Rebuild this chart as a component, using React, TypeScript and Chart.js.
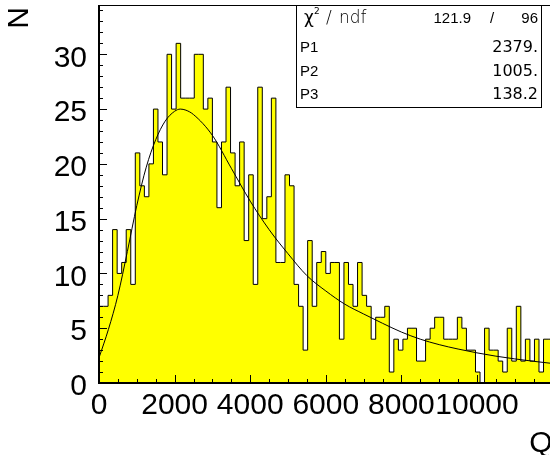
import { useEffect, useRef } from "react";
import { Chart, registerables } from "chart.js";

Chart.register(...registerables);

// ---- data ----
const binWidth = 120;
const xStart = 0;
const binCounts = [
  5, 7, 7, 8, 14, 10, 11, 14, 9, 21,
  18, 17, 20, 25, 22, 19, 30, 25, 31, 26,
  26, 26, 30, 30, 25, 26, 22, 16, 22, 27,
  21, 18, 22, 13, 19, 9, 27, 15, 17, 26,
  11, 11, 19, 18, 9, 7, 3, 13, 7, 11,
  12, 10, 11, 11, 4, 11, 9, 7, 11, 8,
  7, 4, 6, 6, 7, 1, 4, 3, 4, 5,
  5, 2, 2, 4, 5, 6, 6, 4, 4, 4,
  6, 5, 3, 3, 1, 0, 5, 3, 3, 2,
  1, 5, 2, 7, 2, 4, 2, 4, 1, 4,
];
const fitX = [0, 250, 500, 750, 1000, 1250, 1500, 1750, 2000, 2150, 2300, 2500, 3000, 3500, 4000, 4500, 5000, 5500, 6000, 6500, 7000, 7500, 8000, 8500, 9000, 9500, 10000, 10500, 11000, 11500, 12000];
const fitY = [2.3, 4.9, 8.0, 12.0, 16.2, 19.7, 22.2, 23.9, 24.8, 25.0, 24.9, 24.5, 22.6, 19.6, 16.6, 14.0, 11.8, 9.8, 8.4, 7.2, 6.3, 5.45, 4.65, 4.0, 3.5, 3.1, 2.75, 2.45, 2.2, 1.98, 1.78];
const xTickValues = [0, 2000, 4000, 6000, 8000, 10000];
const yTickValues = [0, 5, 10, 15, 20, 25, 30];
const xRange = [0, 12000];
const yRange = [0, 34.5];
const chi2Value = "121.9";
const ndfValue = "96";
const paramNames = ["P1", "P2", "P3"];
const paramValues = ["2379.", "1005.", "138.2"];
const xTitle = "Q";
const yTitle = "N";

const FONT = "'Liberation Sans', Arial, Helvetica, sans-serif";
const DJ = "'DejaVu Sans', sans-serif";

const rootDecor = {
  id: "rootDecor",
  afterDatasetsDraw(chart: any) {
    const { ctx, chartArea: a, scales } = chart;
    const xs = scales.x;
    const ys = scales.y;
    ctx.save();
    ctx.strokeStyle = "#000";
    ctx.fillStyle = "#000";
    // frame top
    ctx.lineWidth = 1;
    ctx.beginPath();
    ctx.moveTo(a.left, Math.round(a.top) + 0.5);
    ctx.lineTo(a.right + 10, Math.round(a.top) + 0.5);
    ctx.stroke();
    // y ticks (inward)
    for (let v = 0; v <= yRange[1]; v += 1) {
      const py = Math.round(ys.getPixelForValue(v)) + 0.5;
      const len = v % 5 === 0 ? 8 : 4;
      ctx.beginPath();
      ctx.moveTo(a.left, py);
      ctx.lineTo(a.left + len, py);
      ctx.stroke();
    }
    // x ticks (inward)
    for (let v = 0; v <= xRange[1]; v += 500) {
      const px = Math.round(xs.getPixelForValue(v)) + 0.5;
      const len = v % 2000 === 0 ? 8 : 4;
      ctx.beginPath();
      ctx.moveTo(px, a.bottom);
      ctx.lineTo(px, a.bottom - len);
      ctx.stroke();
    }
    // axes
    ctx.lineWidth = 2;
    ctx.beginPath();
    ctx.moveTo(a.left, a.top);
    ctx.lineTo(a.left, a.bottom);
    ctx.lineTo(a.right + 10, a.bottom);
    ctx.stroke();

    // stats box
    const bx = 296, by = 5, bw = 245, bh = 102;
    ctx.fillStyle = "#fff";
    ctx.fillRect(bx, by, bw, bh);
    ctx.lineWidth = 1;
    ctx.strokeRect(bx + 0.5, by + 0.5, bw, bh);
    ctx.fillStyle = "#000";
    ctx.textBaseline = "alphabetic";
    // row 1: chi2 / ndf
    const b0 = 23;
    ctx.textAlign = "left";
    ctx.font = `17px ${DJ}`;
    ctx.fillText("\u03C7", 304, b0);
    ctx.font = `9px ${DJ}`;
    ctx.fillText("2", 314, b0 - 9);
    ctx.font = `200 17px ${DJ}`;
    ctx.fillText("/", 326, b0);
    ctx.fillText("ndf", 339, b0);
    ctx.font = `15px ${FONT}`;
    ctx.textAlign = "right";
    ctx.fillText(chi2Value, 471, b0);
    ctx.textAlign = "center";
    ctx.fillText("/", 492, b0);
    ctx.textAlign = "right";
    ctx.fillText(ndfValue, 538, b0);
    // parameter rows
    const baselines = [52, 76, 99];
    paramNames.forEach((n, i) => {
      ctx.textAlign = "left";
      ctx.font = `15px ${FONT}`;
      ctx.fillText(n, 300, baselines[i]);
      ctx.textAlign = "right";
      ctx.font = `16px ${DJ}`;
      ctx.fillText(paramValues[i], 538, baselines[i]);
    });

    // axis titles
    ctx.font = `30px ${FONT}`;
    ctx.textAlign = "right";
    ctx.textBaseline = "alphabetic";
    ctx.fillText(xTitle, a.right, 452);
    ctx.save();
    ctx.translate(28, 7);
    ctx.rotate(-Math.PI / 2);
    ctx.textAlign = "right";
    ctx.fillText(yTitle, 0, 0);
    ctx.restore();
    ctx.restore();
  },
};

export default function App() {
  const ref = useRef<HTMLCanvasElement | null>(null);
  useEffect(() => {
    document.body.style.margin = "0";
    const canvas = ref.current;
    if (!canvas) return;
    const histPoints = binCounts.map((c, i) => ({ x: xStart + i * binWidth, y: c }));
    histPoints.push({ x: xStart + binCounts.length * binWidth, y: binCounts[binCounts.length - 1] });
    const fitPoints = fitX.map((x, i) => ({ x, y: fitY[i] }));
    const chart = new Chart(canvas, {
      type: "line",
      data: {
        datasets: [
          {
            data: fitPoints,
            borderColor: "#000",
            borderWidth: 1,
            pointRadius: 0,
            fill: false,
            cubicInterpolationMode: "monotone",
            order: 0,
          } as any,
          {
            data: histPoints,
            stepped: "after",
            borderColor: "#000",
            borderWidth: 1,
            backgroundColor: "#ffff00",
            pointRadius: 0,
            fill: "origin",
            order: 1,
          } as any,
        ],
      },
      options: {
        animation: false,
        responsive: false,
        maintainAspectRatio: false,
        layout: { padding: { top: 5, right: 3.4, left: 0, bottom: 0 } },
        plugins: { legend: { display: false }, tooltip: { enabled: false }, title: { display: false } },
        scales: {
          x: {
            type: "linear",
            min: xRange[0],
            max: xRange[1],
            grid: { display: false, drawTicks: false },
            border: { display: false },
            ticks: {
              color: "#000",
              font: { family: FONT, size: 30 },
              padding: 5,
              maxRotation: 0,
              autoSkip: false,
              callback: (v: any) => String(v),
            },
            afterBuildTicks: (s: any) => {
              s.ticks = xTickValues.map((v) => ({ value: v }));
            },
            afterFit: (s: any) => {
              s.height = 72;
              s.paddingLeft = 0;
              s.paddingRight = 0;
            },
          },
          y: {
            type: "linear",
            min: yRange[0],
            max: yRange[1],
            grid: { display: false, drawTicks: false },
            border: { display: false },
            ticks: {
              color: "#000",
              font: { family: FONT, size: 30 },
              padding: 12,
              labelOffset: 4,
              callback: (v: any) => String(v),
            },
            afterBuildTicks: (s: any) => {
              s.ticks = yTickValues.map((v) => ({ value: v }));
            },
            afterFit: (s: any) => {
              s.width = 99;
              s.paddingTop = 0;
              s.paddingBottom = 0;
            },
          },
        },
      },
      plugins: [rootDecor],
    });
    return () => chart.destroy();
  }, []);
  return (
    <div style={{ width: 550, height: 455, overflow: "hidden", background: "#fff" }}>
      <canvas ref={ref} width={556} height={455} style={{ display: "block", width: 556, height: 455 }} />
    </div>
  );
}
